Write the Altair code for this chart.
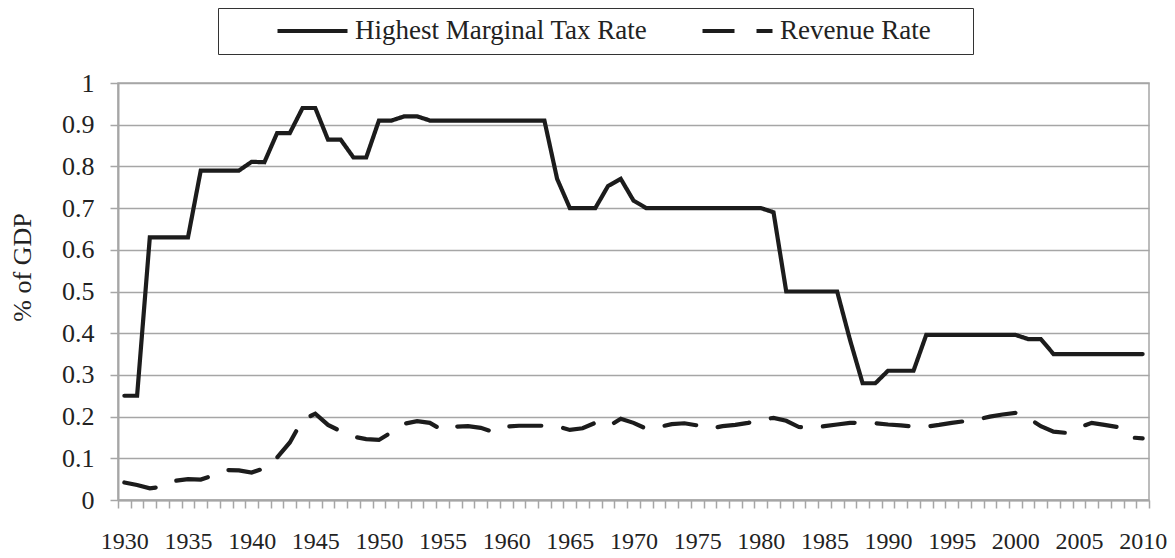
import altair as alt
import pandas as pd

# ---- data ----
years = list(range(1930, 2011))

top_rate = [
    0.25, 0.25, 0.63, 0.63, 0.63, 0.63, 0.79, 0.79, 0.79, 0.79,      # 1930-1939
    0.811, 0.81, 0.88, 0.88, 0.94, 0.94, 0.864, 0.864, 0.8213, 0.8213,  # 1940-1949
    0.91, 0.91, 0.92, 0.92, 0.91, 0.91, 0.91, 0.91, 0.91, 0.91,      # 1950-1959
    0.91, 0.91, 0.91, 0.91, 0.77, 0.70, 0.70, 0.70, 0.753, 0.77,     # 1960-1969
    0.718, 0.70, 0.70, 0.70, 0.70, 0.70, 0.70, 0.70, 0.70, 0.70,     # 1970-1979
    0.70, 0.69, 0.50, 0.50, 0.50, 0.50, 0.50, 0.385, 0.28, 0.28,     # 1980-1989
    0.31, 0.31, 0.31, 0.396, 0.396, 0.396, 0.396, 0.396, 0.396, 0.396,  # 1990-1999
    0.396, 0.386, 0.386, 0.35, 0.35, 0.35, 0.35, 0.35, 0.35, 0.35,   # 2000-2009
    0.35,                                                            # 2010
]

revenue = [
    0.042, 0.036, 0.028, 0.032, 0.046, 0.050, 0.049, 0.059, 0.072, 0.071,  # 1930-1939
    0.066, 0.076, 0.102, 0.138, 0.192, 0.207, 0.180, 0.165, 0.152, 0.146,  # 1940-1949
    0.144, 0.163, 0.183, 0.189, 0.185, 0.167, 0.176, 0.177, 0.173, 0.163,  # 1950-1959
    0.176, 0.178, 0.178, 0.178, 0.177, 0.168, 0.172, 0.185, 0.176, 0.195,  # 1960-1969
    0.185, 0.171, 0.175, 0.182, 0.184, 0.179, 0.171, 0.177, 0.180, 0.185,  # 1970-1979
    0.192, 0.197, 0.190, 0.175, 0.173, 0.177, 0.181, 0.185, 0.185, 0.184,  # 1980-1989
    0.181, 0.179, 0.176, 0.176, 0.180, 0.185, 0.189, 0.193, 0.200, 0.205,  # 1990-1999
    0.209, 0.197, 0.177, 0.164, 0.161, 0.174, 0.185, 0.180, 0.175, 0.150,  # 2000-2009
    0.148,                                                                  # 2010
]

series_names = ["Highest Marginal Tax Rate", "Revenue Rate"]
y_ticks = [0, 0.1, 0.2, 0.3, 0.4, 0.5, 0.6, 0.7, 0.8, 0.9, 1]
y_title = "% of GDP"

df = pd.DataFrame({
    "year": years + years,
    "value": top_rate + revenue,
    "series": [series_names[0]] * len(years) + [series_names[1]] * len(years),
})

# ---- layout ----
W, H = 1031, 417
half_band = W / len(years) / 2
boundaries = [y - 0.5 for y in years] + [years[-1] + 0.5]

FONT = "Liberation Serif"
INK = "#1c1c1c"
GRID = "#a6a6a6"

chart = alt.Chart(df).mark_line(
    color=INK, strokeWidth=4.2, strokeCap="round"
).encode(
    x=alt.X(
        "year:Q",
        scale=alt.Scale(domain=[years[0] - 0.5, years[-1] + 0.5], nice=False, zero=False),
        axis=alt.Axis(
            values=boundaries,
            title=None,
            grid=False,
            tickSize=8,
            tickColor=GRID,
            tickWidth=1.5,
            domainColor=GRID,
            domainWidth=2,
            labelOffset=half_band,
            labelPadding=21,
            labelExpr="(datum.value + 0.5) % 5 == 0 ? format(datum.value + 0.5, 'd') : ''",
            labelOverlap=False,
            labelBound=False,
            labelFlush=False,
            labelFont=FONT,
            labelFontSize=24,
            labelColor="#222",
        ),
    ),
    y=alt.Y(
        "value:Q",
        scale=alt.Scale(domain=[0, 1], nice=False),
        axis=alt.Axis(
            values=y_ticks,
            format="~g",
            title=y_title,
            titleFont=FONT,
            titleFontSize=26,
            titleFontWeight="normal",
            titleColor="#222",
            titleX=-88,
            titleY=184,
            titleBaseline="alphabetic",
            titleAlign="center",
            titleAngle=270,
            grid=True,
            gridColor=GRID,
            gridWidth=1.5,
            tickSize=8,
            tickColor=GRID,
            tickWidth=1.5,
            domainColor=GRID,
            domainWidth=2,
            labelPadding=16,
            labelFont=FONT,
            labelFontSize=26,
            labelColor="#222",
        ),
    ),
    strokeDash=alt.StrokeDash(
        "series:N",
        scale=alt.Scale(domain=series_names, range=[[1, 0], [32, 22]]),
        legend=alt.Legend(
            # an invisible no-break-space title on the right pads the frame as in the reference
            title="\u00a0",
            titleOrient="right",
            titlePadding=33,
            titleFontSize=10,
            orient="none",
            legendX=100,
            legendY=-75,
            direction="horizontal",
            symbolType="stroke",
            symbolSize=4900,
            symbolStrokeWidth=4.2,
            symbolStrokeColor=INK,
            clipHeight=28,
            labelFont=FONT,
            labelFontSize=27,
            labelColor="#222",
            labelLimit=500,
            labelOffset=5,
            columnPadding=4,
            padding=9,
            symbolOffset=48,
            strokeColor="#333",
        ),
    ),
).properties(
    width=W,
    height=H,
    autosize=alt.AutoSizeParams(type="none"),
    padding={"left": 110, "top": 75, "right": 18, "bottom": 58},
).configure(
    font=FONT,
).configure_view(
    stroke=GRID,
    strokeWidth=1.5,
)

chart.save("out.html", embed_options={"renderer": "svg", "actions": False})
